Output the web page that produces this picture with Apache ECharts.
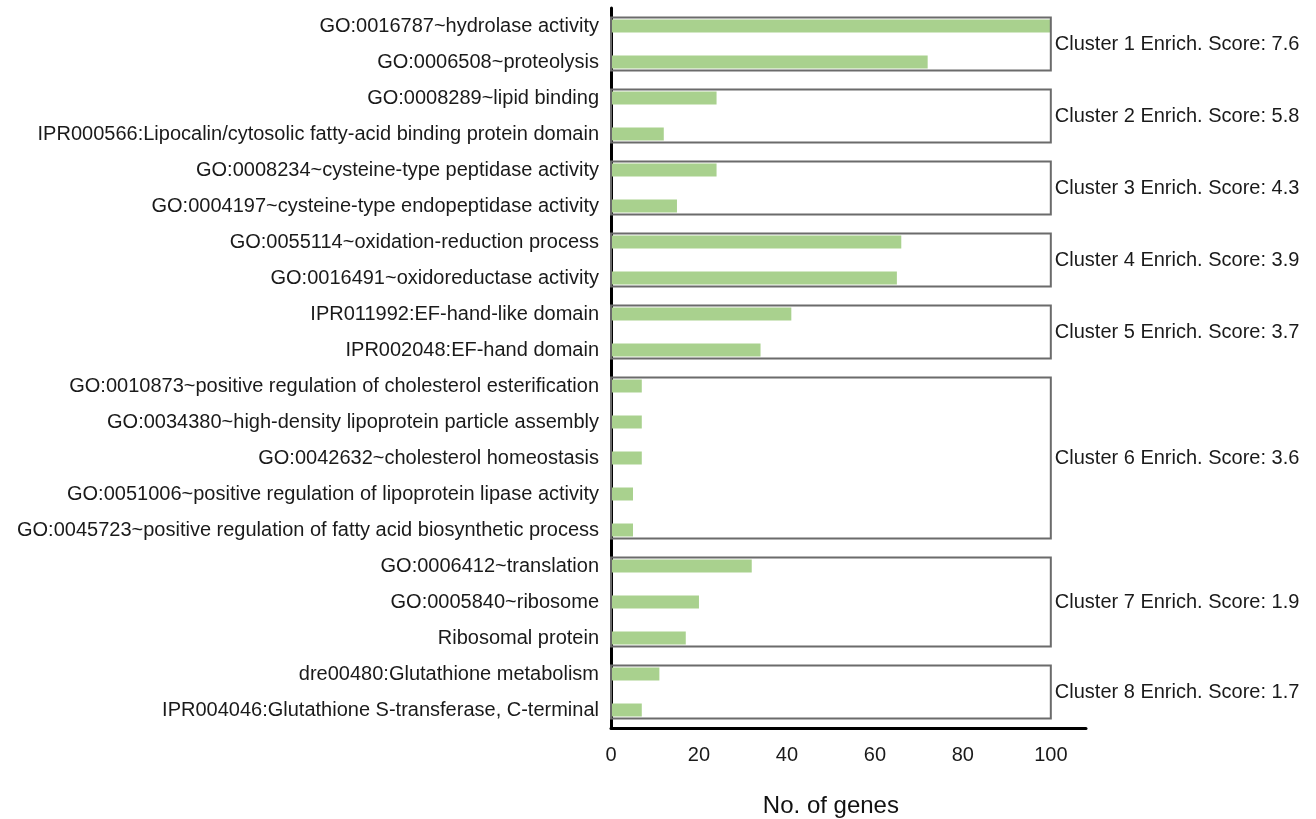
<!DOCTYPE html>
<html>
<head>
<meta charset="utf-8">
<script src="https://cdn.jsdelivr.net/npm/echarts@6/dist/echarts.min.js"></script>
<style>
  html, body { margin: 0; padding: 0; background: #fff; }
  #chart { width: 1316px; height: 819px; }
</style>
</head>
<body>
<div id="chart"></div>
<script>
const terms = [
  "GO:0016787~hydrolase activity",
  "GO:0006508~proteolysis",
  "GO:0008289~lipid binding",
  "IPR000566:Lipocalin/cytosolic fatty-acid binding protein domain",
  "GO:0008234~cysteine-type peptidase activity",
  "GO:0004197~cysteine-type endopeptidase activity",
  "GO:0055114~oxidation-reduction process",
  "GO:0016491~oxidoreductase activity",
  "IPR011992:EF-hand-like domain",
  "IPR002048:EF-hand domain",
  "GO:0010873~positive regulation of cholesterol esterification",
  "GO:0034380~high-density lipoprotein particle assembly",
  "GO:0042632~cholesterol homeostasis",
  "GO:0051006~positive regulation of lipoprotein lipase activity",
  "GO:0045723~positive regulation of fatty acid biosynthetic process",
  "GO:0006412~translation",
  "GO:0005840~ribosome",
  "Ribosomal protein",
  "dre00480:Glutathione metabolism",
  "IPR004046:Glutathione S-transferase, C-terminal"
];
const geneCounts = [100, 72, 24, 12, 24, 15, 66, 65, 41, 34, 7, 7, 7, 5, 5, 32, 20, 17, 11, 7];

// clusters: first row, last row, enrichment score
const clusterStart = [0, 2, 4, 6, 8, 10, 15, 18];
const clusterEnd = [1, 3, 5, 7, 9, 14, 17, 19];
const clusterScore = ["7.6", "5.8", "4.3", "3.9", "3.7", "3.6", "1.9", "1.7"];
const xTicks = [0, 20, 40, 60, 80, 100];

const chart = echarts.init(document.getElementById("chart"), null, { renderer: "canvas" });
const font = "'Liberation Sans', Arial, sans-serif";
const barW = 13;

chart.setOption({
  animation: false,
  backgroundColor: "#fff",
  grid: { left: 611, right: 230, top: 8, bottom: 91, containLabel: false },
  xAxis: {
    type: "value",
    min: 0,
    max: 108,
    interval: 20,
    splitLine: { show: false },
    axisTick: { show: false },
    axisLine: { show: true, lineStyle: { color: "#000", width: 3 } },
    axisLabel: {
      showMaxLabel: false,
      margin: 17,
      color: "#1a1a1a",
      fontSize: 20,
      fontFamily: font,
      formatter: (v) => (xTicks.includes(v) ? String(v) : "")
    }
  },
  yAxis: {
    type: "category",
    inverse: true,
    data: terms,
    axisTick: { show: false },
    axisLine: { show: true, lineStyle: { color: "#000", width: 3 } },
    axisLabel: { color: "#1a1a1a", fontSize: 20, fontFamily: font, margin: 12 }
  },
  series: [
    {
      type: "bar",
      data: geneCounts,
      barWidth: barW,
      itemStyle: { color: "#a9d18e" },
      z: 2
    },
    {
      type: "custom",
      data: clusterStart.map((s, i) => [s, clusterEnd[i]]),
      z: 3,
      clip: false,
      renderItem: function (params, api) {
        const i = params.dataIndex;
        const a = api.coord([0, clusterStart[i]]);
        const b = api.coord([100, clusterEnd[i]]);
        const pad = barW / 2 + 2;
        const y0 = a[1] - pad;
        const y1 = b[1] + pad;
        return {
          type: "group",
          children: [
            {
              type: "rect",
              shape: { x: a[0], y: y0, width: b[0] - a[0], height: y1 - y0 },
              style: { fill: "none", stroke: "#6b6b6b", lineWidth: 2 }
            },
            {
              type: "text",
              style: {
                x: b[0] + 4,
                y: (y0 + y1) / 2,
                text: "Cluster " + (i + 1) + " Enrich. Score: " + clusterScore[i],
                fill: "#1a1a1a",
                fontSize: 20,
                fontFamily: font,
                verticalAlign: "middle",
                align: "left"
              }
            }
          ]
        };
      }
    }
  ]
});

// axis title centred under the 0–100 span, as in the original figure
const mid = chart.convertToPixel({ xAxisIndex: 0 }, 50);
chart.setOption({
  title: {
    text: "No. of genes",
    left: mid - 5,
    top: 789,
    textAlign: "center",
    textStyle: { color: "#111", fontSize: 24, fontWeight: "normal", fontFamily: font }
  }
});

window.addEventListener("resize", () => chart.resize());
</script>
</body>
</html>
